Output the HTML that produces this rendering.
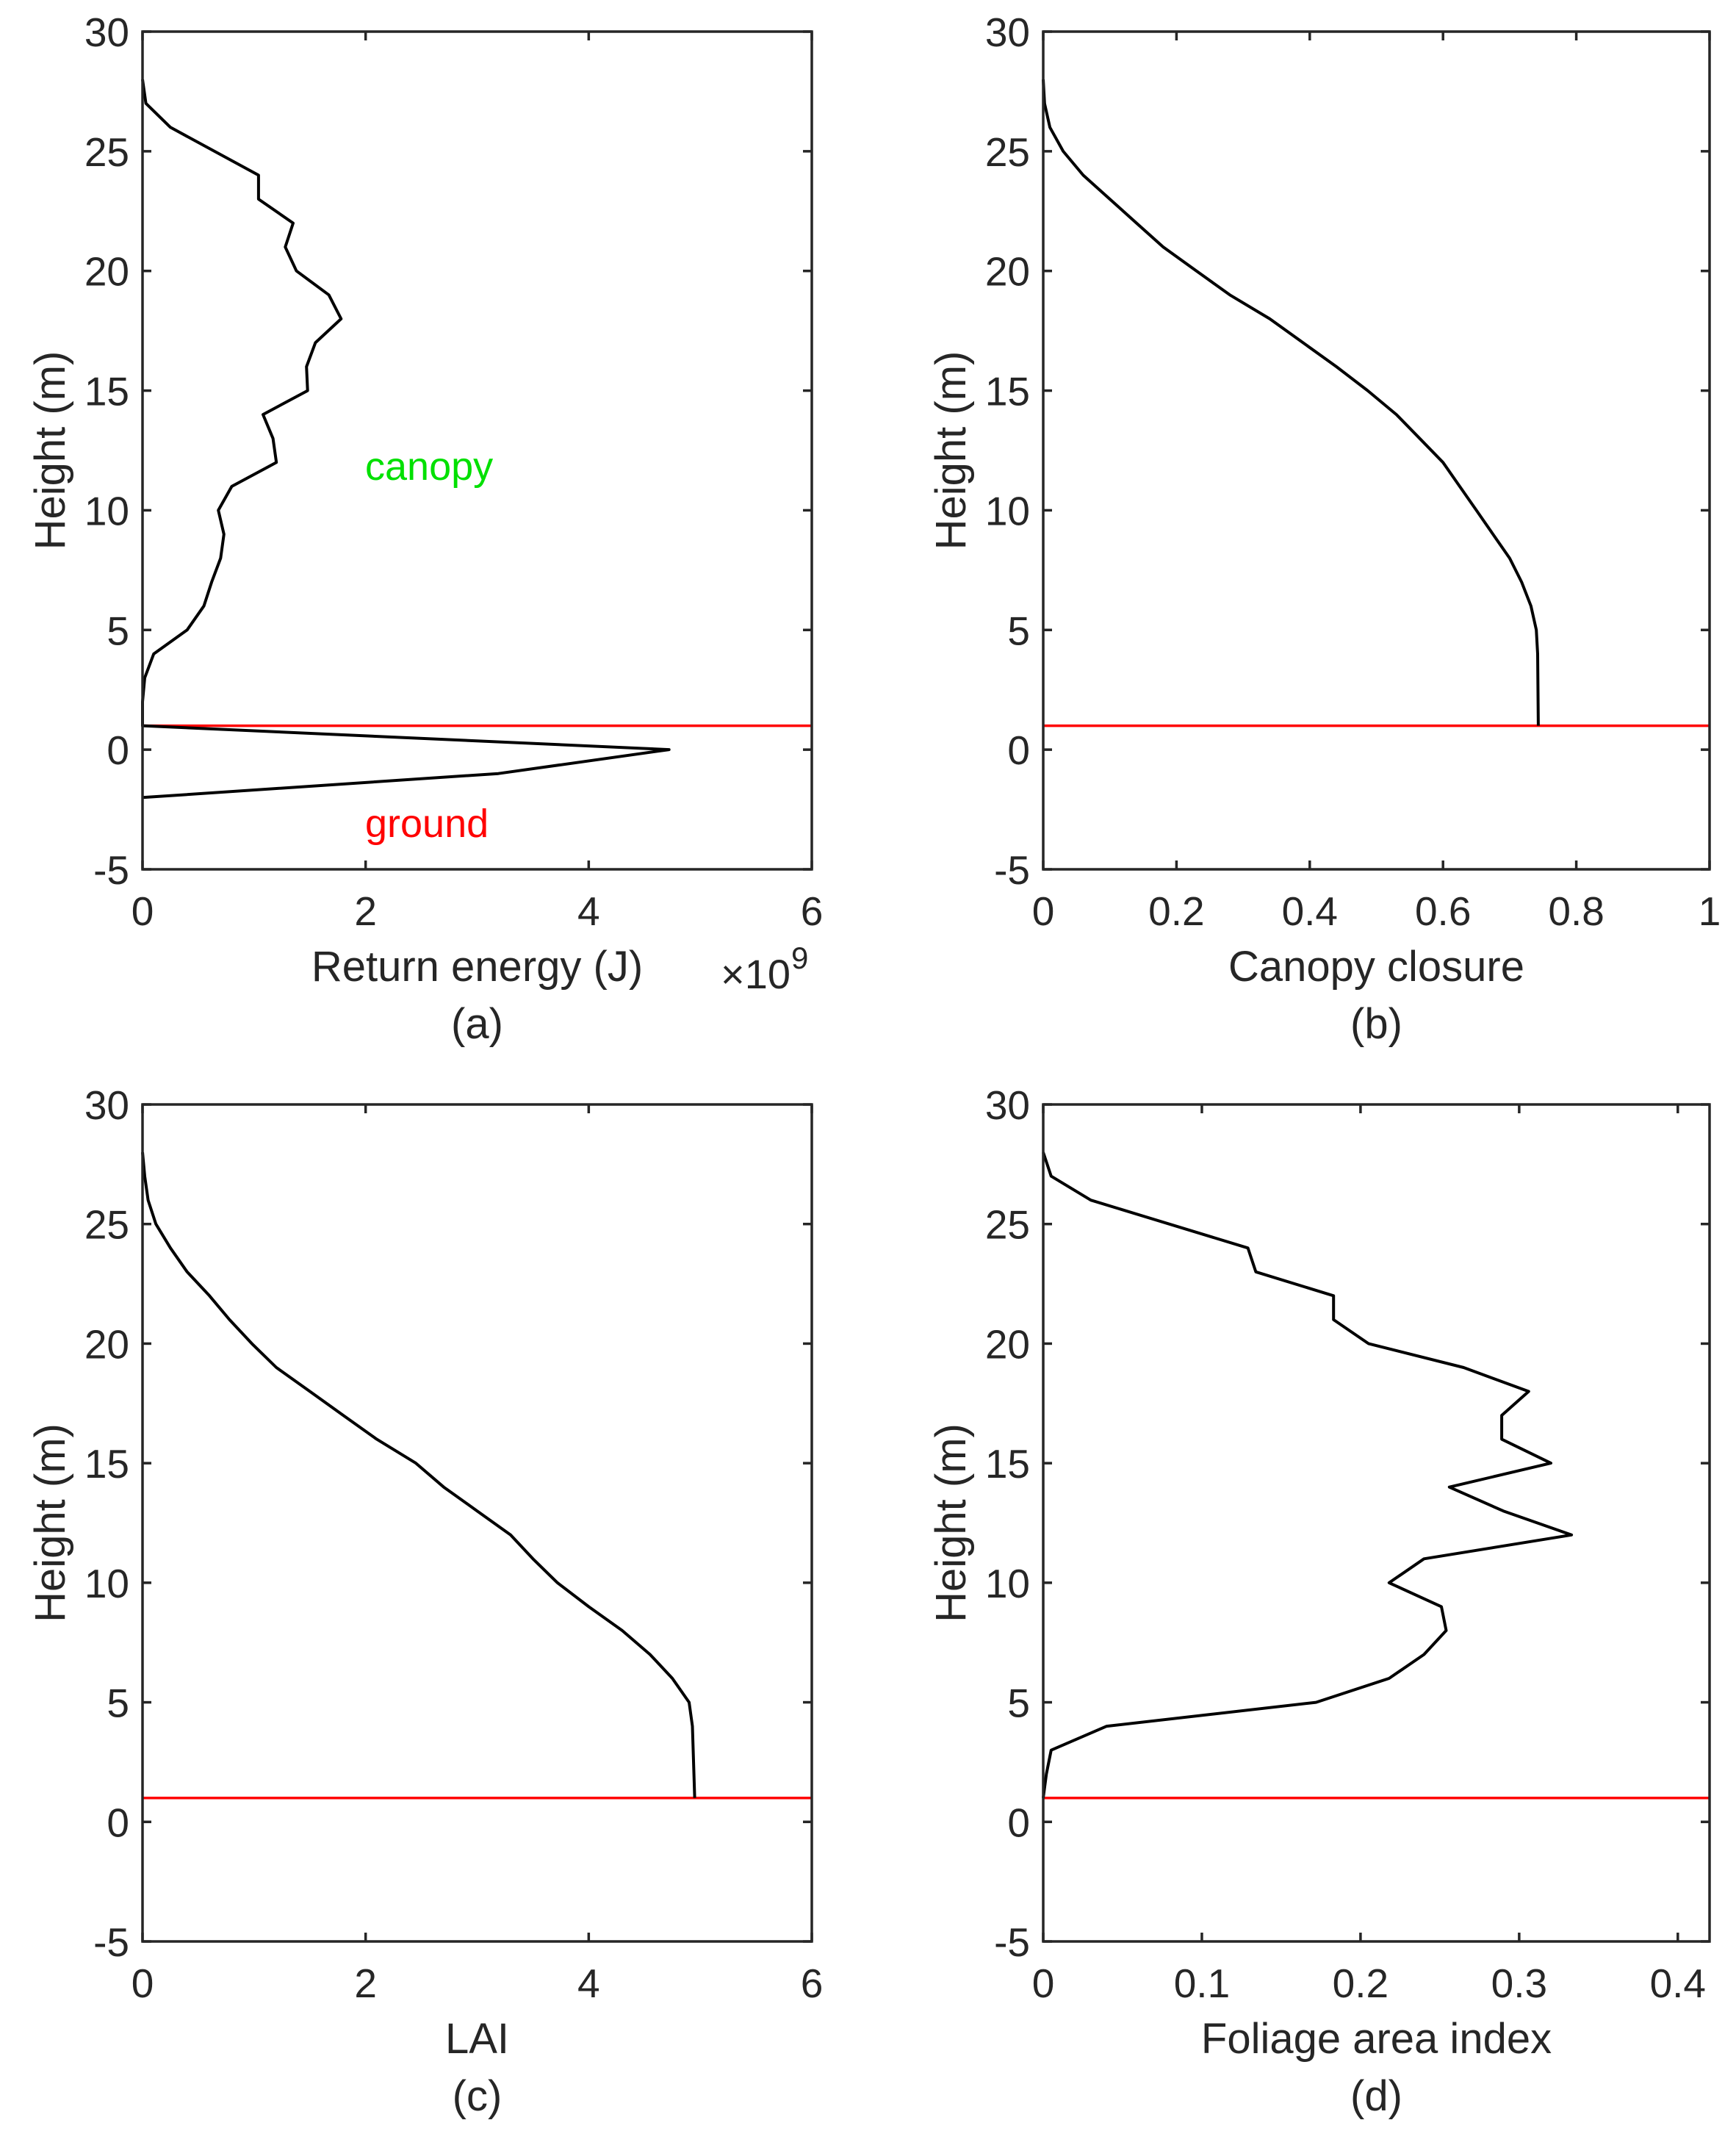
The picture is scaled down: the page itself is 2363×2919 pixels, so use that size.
<!DOCTYPE html>
<html><head><meta charset="utf-8">
<style>
html,body{margin:0;padding:0;background:#fff;}
svg{display:block;}
text{font-family:"Liberation Sans",sans-serif;fill:#262626;}
</style></head>
<body>
<svg id="s" width="2363" height="2919" viewBox="0 0 2363 2919" xmlns="http://www.w3.org/2000/svg">
<rect width="2363" height="2919" fill="#fff"/>
</svg>
<script>
const S=document.getElementById('s');let out='';
function plot(o){
 const {x0,x1,y0,y1,xmax,xticks,xlab,letter,data}=o;
 const X=v=>x0+(v/xmax)*(x1-x0), Y=v=>y0+(30-v)/35*(y1-y0);
 out+=`<line x1="${x0}" x2="${x1}" y1="${Y(1)}" y2="${Y(1)}" stroke="#ff0000" stroke-width="3.5"/>`;
 out+=`<polyline fill="none" stroke="#000" stroke-width="4" stroke-linejoin="round" points="${data.map(d=>X(d[1]).toFixed(1)+','+Y(d[0]).toFixed(1)).join(' ')}"/>`;
 out+=`<rect x="${x0}" y="${y0}" width="${x1-x0}" height="${y1-y0}" fill="none" stroke="#262626" stroke-width="3.5"/>`;
 for(let v=-5;v<=30;v+=5){const y=Y(v);
  out+=`<line x1="${x0}" x2="${x0+12}" y1="${y}" y2="${y}" stroke="#262626" stroke-width="3.5"/><line x1="${x1-12}" x2="${x1}" y1="${y}" y2="${y}" stroke="#262626" stroke-width="3.5"/>`;
  out+=`<text x="${x0-18}" y="${y+20}" font-size="55" text-anchor="end">${v}</text>`;}
 for(const t of xticks){const x=X(t);
  out+=`<line x1="${x}" x2="${x}" y1="${y1}" y2="${y1-12}" stroke="#262626" stroke-width="3.5"/><line x1="${x}" x2="${x}" y1="${y0}" y2="${y0+12}" stroke="#262626" stroke-width="3.5"/>`;
  out+=`<text x="${x}" y="${y1+76}" font-size="55" text-anchor="middle">${t}</text>`;}
 const cx=(x0+x1)/2;
 out+=`<text x="${cx}" y="${y1+152}" font-size="58" text-anchor="middle">${xlab}</text>`;
 out+=`<text x="${cx}" y="${y1+230}" font-size="58" text-anchor="middle">${letter}</text>`;
 const cy=(y0+y1)/2;
 out+=`<text transform="translate(${x0-106},${cy}) rotate(-90)" font-size="58" text-anchor="middle">Height (m)</text>`;
}
const A=[[28,0],[27,0.03],[26,0.25],[24,1.04],[23,1.04],[22,1.35],[21,1.28],[20,1.38],[19,1.67],[18,1.78],[17,1.55],[16,1.47],[15,1.48],[14,1.08],[13,1.17],[12,1.2],[11,0.8],[10,0.68],[9,0.73],[8,0.7],[7,0.62],[6,0.55],[5,0.4],[4,0.1],[3,0.02],[2,0],[1,0],[0,4.72],[-1,3.19],[-2,0]];
const B=[[28,0],[27,0.002],[26,0.01],[25,0.03],[24,0.06],[23,0.1],[22,0.14],[21,0.18],[20,0.23],[19,0.28],[18,0.34],[17,0.39],[16,0.44],[15,0.487],[14,0.53],[13,0.565],[12,0.6],[11,0.625],[10,0.65],[9,0.675],[8,0.7],[7,0.718],[6,0.732],[5,0.74],[4,0.742],[1,0.743]];
const C=[[28,0],[27,0.02],[26,0.05],[25,0.12],[24,0.25],[23,0.4],[22,0.6],[21,0.78],[20,0.98],[19,1.2],[18,1.5],[17,1.8],[16,2.1],[15,2.45],[14,2.7],[13,3.0],[12,3.3],[11,3.5],[10,3.72],[9,4.0],[8,4.3],[7,4.55],[6,4.75],[5,4.9],[4,4.93],[1,4.95]];
const D=[[28,0],[27,0.005],[26,0.03],[24,0.129],[23,0.134],[22,0.183],[21,0.183],[20,0.205],[19,0.265],[18,0.306],[17,0.289],[16,0.289],[15,0.32],[14,0.256],[13,0.29],[12,0.333],[11,0.24],[10,0.218],[9,0.251],[8,0.254],[7,0.24],[6,0.218],[5,0.172],[4,0.04],[3,0.005],[2,0.002],[1,0]];
plot({x0:194,x1:1105,y0:43,y1:1183,xmax:6,xticks:[0,2,4,6],xlab:'Return energy (J)',letter:'(a)',data:A});
plot({x0:1420,x1:2327,y0:43,y1:1183,xmax:1,xticks:[0,0.2,0.4,0.6,0.8,1],xlab:'Canopy closure',letter:'(b)',data:B});
plot({x0:194,x1:1105,y0:1503,y1:2642,xmax:6,xticks:[0,2,4,6],xlab:'LAI',letter:'(c)',data:C});
plot({x0:1420,x1:2327,y0:1503,y1:2642,xmax:0.42,xticks:[0,0.1,0.2,0.3,0.4],xlab:'Foliage area index',letter:'(d)',data:D});
out+=`<text x="497" y="653" font-size="54" style="fill:#00e000">canopy</text>`;
out+=`<text x="497" y="1139" font-size="54" style="fill:#ff0000">ground</text>`;
out+=`<text x="981" y="1345" font-size="56">×10</text><text x="1077" y="1318" font-size="42">9</text>`;
S.insertAdjacentHTML('beforeend',out);
</script>
</body></html>
